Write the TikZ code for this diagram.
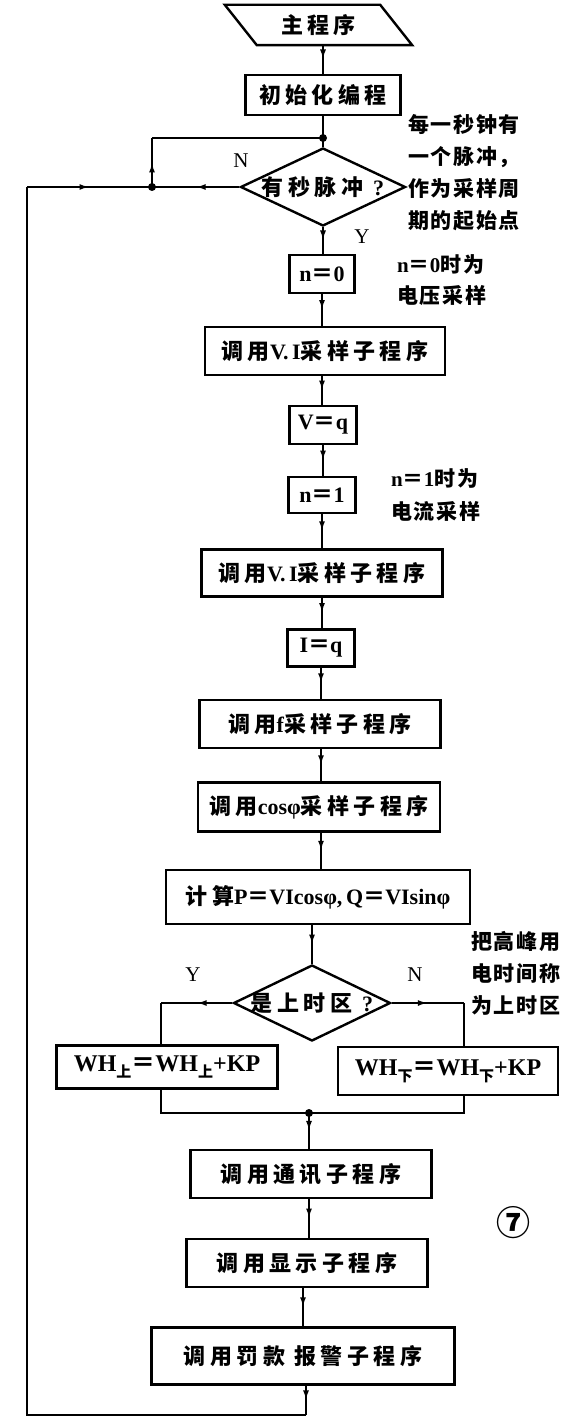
\documentclass[tikz,border=0pt]{standalone}
\usepackage{fontspec}
\setmainfont{Liberation Serif}
\newfontfamily\cjkfont[LetterSpace=20]{Noto Sans CJK SC}
\newfontfamily\cjknote[LetterSpace=8]{Noto Sans CJK SC}
\newfontfamily\circfont{Noto Sans CJK SC}
\usetikzlibrary{arrows.meta,decorations.markings,shapes.geometric}
\newcommand\zh[1]{{\cjkfont\bfseries #1}}
\newcommand\zn[1]{{\cjknote\bfseries #1}}
\newcommand\lowzh[1]{\raisebox{-6pt}{\fontsize{15}{15}\selectfont\cjknote\bfseries #1}}
\begin{document}
\begin{tikzpicture}[x=1pt,y=-1pt,
  box/.style={draw, line width=2.4pt, inner sep=0pt, font=\fontsize{22}{24}\selectfont\bfseries},
  dia/.style={shape=diamond, draw, line width=2.4pt, inner sep=0pt, aspect=2, font=\fontsize{22}{24}\selectfont\bfseries},
  flow/.style={line width=2pt, postaction={decorate},
    decoration={markings, mark=at position 0.5 with {\arrow{Latex[length=10pt,width=6pt]}}}},
  plain/.style={line width=2pt},
  dot/.style={circle, fill, inner sep=0pt, minimum size=8pt},
  lbl/.style={font=\fontsize{21}{22}\selectfont},
  note/.style={align=left, anchor=north west, inner sep=0pt, font=\fontsize{21}{32}\selectfont\bfseries}]
\useasboundingbox (0,0) rectangle (574,1423);

% start
\node[minimum width=155pt, minimum height=40pt, inner sep=0pt, font=\fontsize{22}{24}\selectfont] (start) at (318.5,25) {\zh{主程序}};
\draw[line width=2.4pt] ([xshift=-16pt]start.north west) -- ([xshift=-16pt]start.north east)
  -- ([xshift=16pt]start.south east) -- ([xshift=16pt]start.south west) -- cycle;

\node[box, minimum width=155pt, minimum height=40pt] (init) at (323,95) {\zh{初始化编程}};
\coordinate (j1) at (323,138);
\node[dia, minimum width=165pt, minimum height=78pt] (d1) at (323,187) {\makebox[90pt]{\zh{有秒脉冲}\hspace{10pt}?}};
\node[box, minimum width=65pt, minimum height=38pt] (n0) at (322,274) {n\zh{＝}0};
\node[box, minimum width=240pt, minimum height=48pt] (vi1) at (325,351) {\zh{调用}V.\,I\zh{采样子程序}};
\node[box, minimum width=67pt, minimum height=38pt] (vq) at (323,425) {V\zh{＝}q};
\node[box, minimum width=67pt, minimum height=36pt] (n1) at (322,495) {n\zh{＝}1};
\node[box, minimum width=241pt, minimum height=47pt] (vi2) at (322,573) {\zh{调用}V.\,I\zh{采样子程序}};
\node[box, minimum width=67pt, minimum height=37pt] (iq) at (321,648) {I\zh{＝}q};
\node[box, minimum width=241pt, minimum height=48pt] (fb) at (320,724) {\zh{调用}f\zh{采样子程序}};
\node[box, minimum width=242pt, minimum height=49pt] (cosb) at (319,807) {\zh{调用}cosφ\zh{采样子程序}};
\node[box, minimum width=304pt, minimum height=54pt] (calc) at (318,897) {\zh{计算}P\zh{＝}VIcosφ,\,Q\zh{＝}VIsinφ};
\node[dia, minimum width=157pt, minimum height=76pt] (d2) at (312,1003) {\makebox[80pt]{\zh{是上时区}\hspace{10pt}?}};
\coordinate (lt) at (161,1003);
\coordinate (rt) at (464,1003);
\node[box, minimum width=221pt, minimum height=43pt, font=\fontsize{24}{26}\selectfont\bfseries] (wl) at (167,1067) {WH\lowzh{上}\zh{＝}WH\lowzh{上}+KP};
\node[box, minimum width=220pt, minimum height=48pt, font=\fontsize{24}{26}\selectfont\bfseries] (wr) at (448,1071) {WH\lowzh{下}\zh{＝}WH\lowzh{下}+KP};
\coordinate (jb) at (309,1113);
\node[box, minimum width=241pt, minimum height=48pt] (tx) at (311,1174) {\zh{调用通讯子程序}};
\node[box, minimum width=241pt, minimum height=48pt] (disp) at (307,1263) {\zh{调用显示子程序}};
\node[box, minimum width=303pt, minimum height=57pt] (alarm) at (303,1356) {\zh{调用罚款 报警子程序}};
\coordinate (cb) at (306,1415);
\coordinate (cl) at (27,1415);
\coordinate (ct) at (27,187);
\coordinate (dl) at (152,187);
\coordinate (dt) at (152,138);

% labels
\node[lbl] (lN1) at (241,161) {N};
\node[lbl] (lY1) at (362,237) {Y};
\node[lbl] (lY2) at (193,975) {Y};
\node[lbl] (lN2) at (415,975) {N};

% notes
\node[note] (a1) at (408,114) {\zn{每一秒钟有}\\\zn{一个脉冲，}\\\zn{作为采样周}\\\zn{期的起始点}};
\node[note, font=\fontsize{21}{31}\selectfont\bfseries] (a2) at (397,254) {n\zh{＝}0\zn{时为}\\\zn{电压采样}};
\node[note, font=\fontsize{21}{33}\selectfont\bfseries] (a3) at (391,468) {n\zh{＝}1\zn{时为}\\\zn{电流采样}};
\node[note] (a4) at (471,931) {\zn{把高峰用}\\\zn{电时间称}\\\zn{为上时区}};
\node (seven) at (513,1223) {\circfont\bfseries\fontsize{34}{34}\selectfont ⑦};

% connectors
\draw[flow] (start.south -| init.north) -- (init.north);
\draw[plain] (init.south) -- (j1) -- (d1.north);
\draw[flow] (d1.south) -- (n0.north -| d1.south);
\draw[flow] (n0.south) -- (n0.south |- vi1.north);
\draw[flow] (vi1.south -| n0.south) -- (n0.south |- vq.north);
\draw[flow] (vq.south) -- (vq.south |- n1.north);
\draw[flow] (n1.south) -- (n1.south |- vi2.north);
\draw[flow] (vi2.south -| n1.south) -- (n1.south |- iq.north);
\draw[flow] (iq.south) -- (iq.south |- fb.north);
\draw[flow] (fb.south -| iq.south) -- (iq.south |- cosb.north);
\draw[flow] (cosb.south -| iq.south) -- (iq.south |- calc.north);
\draw[flow] (calc.south -| d2.north) -- (d2.north);
\draw[flow] (d2.west) -- (lt);
\draw[plain] (lt) -- (lt |- wl.north);
\draw[flow] (d2.east) -- (rt);
\draw[plain] (rt) -- (rt |- wr.north);
\draw[plain] (lt |- wl.south) -- (lt |- jb) -- (jb);
\draw[plain] (rt |- wr.south) -- (rt |- jb) -- (jb);
\draw[flow] (jb) -- (jb |- tx.north);
\draw[flow] (tx.south -| jb) -- (jb |- disp.north);
\draw[flow] (disp.south -| alarm.south) -- (alarm.north -| alarm.south);
\draw[flow] (alarm.south -| cb) -- (cb);
\draw[plain] (cb) -- (cl) -- (ct);
\draw[flow] (ct) -- (dl);
\draw[flow] (d1.west) -- (dl);
\draw[flow] (dl) -- (dt);
\draw[plain] (dt) -- (j1);
\node[dot] (dj1) at (j1) {};
\node[dot] (ddl) at (dl) {};
\node[dot] (djb) at (jb) {};
\end{tikzpicture}
\end{document}
